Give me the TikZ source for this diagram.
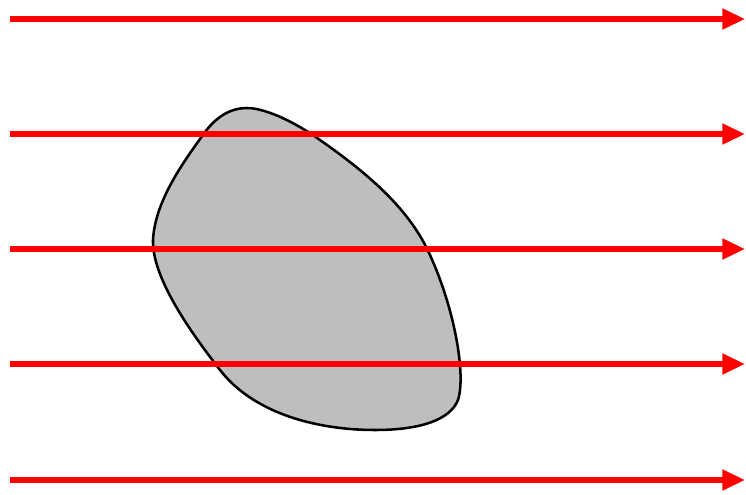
\documentclass[tikz,border=0pt]{standalone}
\usetikzlibrary{arrows.meta}
\begin{document}
\begin{tikzpicture}[x=0.75pt,y=-0.75pt,
  ray/.style={draw=red, line width=3.8pt, -{Triangle[length=17pt,width=15pt]}},
  blob/.style={draw=black, line width=1.9pt, fill={rgb,255:red,190;green,190;blue,190}}]
\useasboundingbox (0,0) rectangle (746,495);
\draw[blob] (247,108)
  .. controls (232,108) and (218,115) .. (205,132)
  .. controls (185,160) and (155,200) .. (153,240)
  .. controls (152,275) and (185,325) .. (220,370)
  .. controls (255,415) and (320,430) .. (375,430)
  .. controls (420,430) and (450,420) .. (458,400)
  .. controls (466,375) and (455,310) .. (430,255)
  .. controls (410,210) and (370,175) .. (320,140)
  .. controls (295,122) and (265,108) .. (247,108) -- cycle;
\foreach \yy/\nm in {19/a,134/b,249/c,364/d,480/e}{
  \coordinate (s\nm) at (10,\yy);
  \coordinate (t\nm) at (745,\yy);
  \draw[ray] (s\nm) -- (t\nm);
}
\end{tikzpicture}
\end{document}
